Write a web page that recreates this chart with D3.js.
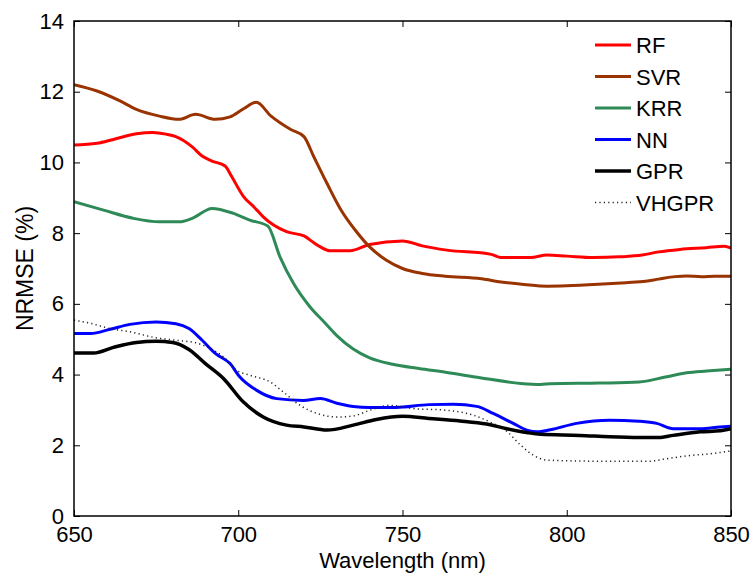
<!DOCTYPE html>
<html>
<head>
<meta charset="utf-8">
<script src="https://cdn.jsdelivr.net/npm/d3@7"></script>
<style>
  body { margin: 0; background: #fff; }
  text { font-family: "Liberation Sans", Arial, sans-serif; fill: #000; }
</style>
</head>
<body>
<div id="chart"></div>
<script>
// data
const xTicks = [650, 700, 750, 800, 850];
const yTicks = [0, 2, 4, 6, 8, 10, 12, 14];

const rfWl  = [650, 657, 662, 669, 674, 678, 681, 686, 689, 692, 696, 698, 701.5, 705, 707.6, 714.7, 720, 723, 725, 728, 734, 740, 750, 756, 763.5, 777, 780, 789, 794, 800, 808, 816, 823, 828, 834.5, 842.5, 848, 850];
const rfVal = [10.49, 10.54, 10.65, 10.81, 10.85, 10.8, 10.73, 10.44, 10.18, 10.04, 9.9, 9.6, 9.05, 8.72, 8.46, 8.04, 7.92, 7.73, 7.61, 7.5, 7.5, 7.68, 7.78, 7.64, 7.52, 7.4, 7.31, 7.31, 7.38, 7.35, 7.31, 7.33, 7.38, 7.47, 7.54, 7.59, 7.63, 7.58];

const svrWl  = [650, 657, 664, 669, 676, 682, 687, 693, 697.5, 701.5, 705.5, 710, 716, 720, 723, 727, 731, 736, 740, 745, 750, 756, 763, 774, 780, 787, 794, 800, 811, 818, 824, 828, 833, 836.5, 841, 845, 850];
const svrVal = [12.2, 12.02, 11.74, 11.5, 11.31, 11.22, 11.36, 11.22, 11.29, 11.51, 11.7, 11.31, 10.93, 10.73, 10.16, 9.41, 8.7, 8.04, 7.61, 7.24, 7.0, 6.86, 6.78, 6.71, 6.62, 6.55, 6.5, 6.51, 6.56, 6.6, 6.64, 6.7, 6.77, 6.79, 6.77, 6.78, 6.78];

const krrWl  = [650, 659, 668, 676, 682, 686, 692, 698.5, 703.5, 709, 712.7, 716.8, 721.8, 726, 730, 735, 740, 747, 755, 763.5, 773.6, 786, 792, 795, 810, 822, 830, 836.5, 842.6, 850];
const krrVal = [8.89, 8.65, 8.42, 8.32, 8.32, 8.42, 8.7, 8.56, 8.37, 8.2, 7.33, 6.58, 5.92, 5.5, 5.1, 4.72, 4.47, 4.29, 4.17, 4.06, 3.91, 3.75, 3.72, 3.74, 3.76, 3.79, 3.93, 4.05, 4.1, 4.15];

const nnWl  = [650, 655, 661, 667, 675, 681, 685, 689, 693, 697.5, 700.5, 705.5, 711.7, 719.8, 725, 730, 735, 740, 748, 758, 765.5, 772.6, 777.6, 783.7, 787.8, 791, 795, 803, 813, 822, 827.4, 832.4, 840.6, 846.7, 850];
const nnVal = [5.16, 5.16, 5.28, 5.42, 5.49, 5.44, 5.3, 4.97, 4.6, 4.31, 3.93, 3.56, 3.32, 3.27, 3.32, 3.19, 3.1, 3.07, 3.07, 3.15, 3.16, 3.1, 2.9, 2.62, 2.43, 2.38, 2.44, 2.62, 2.71, 2.68, 2.62, 2.47, 2.47, 2.52, 2.54];

const gprWl  = [650, 656, 662, 669, 675, 680, 685, 690, 695.5, 701.5, 707.6, 714.7, 720, 727, 735, 742, 750, 758, 767.5, 775.6, 781.7, 787.8, 792, 804, 813, 822, 828, 832.4, 840.6, 846.7, 850];
const gprVal = [4.61, 4.61, 4.77, 4.91, 4.94, 4.91, 4.71, 4.31, 3.89, 3.23, 2.8, 2.57, 2.52, 2.43, 2.57, 2.73, 2.82, 2.76, 2.69, 2.6, 2.47, 2.36, 2.31, 2.28, 2.24, 2.22, 2.22, 2.28, 2.38, 2.41, 2.47];

const vhWl  = [650, 655, 661, 667, 675, 681, 687, 691.4, 695.5, 699.5, 703.6, 709.7, 713.7, 718.8, 724, 730, 735, 740, 746, 753, 763.5, 771.6, 776.6, 781.7, 785.8, 789.8, 794, 810, 825, 830.4, 836.5, 844.6, 850];
const vhVal = [5.54, 5.45, 5.3, 5.21, 5.04, 4.97, 4.9, 4.74, 4.5, 4.12, 3.98, 3.79, 3.51, 3.13, 2.9, 2.8, 2.83, 2.99, 3.13, 3.04, 2.99, 2.85, 2.66, 2.4, 2.02, 1.72, 1.58, 1.55, 1.55, 1.62, 1.7, 1.77, 1.84];

const seriesNames = ["RF", "SVR", "KRR", "NN", "GPR", "VHGPR"];
const seriesColors = ["#ff0000", "#993300", "#2e8b57", "#0000ff", "#000000", "#222222"];

const series = [
  {wl: rfWl, val: rfVal},
  {wl: svrWl, val: svrVal},
  {wl: krrWl, val: krrVal},
  {wl: nnWl, val: nnVal},
  {wl: gprWl, val: gprVal},
  {wl: vhWl, val: vhVal}
].map((s, i) => ({
  name: seriesNames[i],
  color: seriesColors[i],
  points: s.wl.map((w, j) => ({w: w, v: s.val[j]}))
}));

const W = 753, H = 575;
const margin = {top: 21, right: 22, bottom: 59, left: 74},
  width = W - margin.left - margin.right,
  height = H - margin.top - margin.bottom;

const svg = d3.select("#chart")
  .append("svg")
  .attr("width", W)
  .attr("height", H);

const g = svg.append("g")
  .attr("transform", `translate(${margin.left}, ${margin.top})`);

const x = d3.scaleLinear().domain([650, 850]).range([0, width]);
const y = d3.scaleLinear().domain([0, 14]).range([height, 0]);

// clip so the lines stay in the box
g.append("clipPath").attr("id", "clip")
  .append("rect").attr("width", width).attr("height", height);

const line = d3.line()
  .x(d => x(d.w))
  .y(d => y(d.v))
  .curve(d3.curveMonotoneX);

function styleLine(sel, name) {
  if (name === "VHGPR") {
    sel.attr("stroke-width", 1.5).attr("stroke-dasharray", "1.2,3.2");
  } else {
    sel.attr("stroke-width", name === "GPR" ? 3.5 : 3)
      .attr("stroke-linejoin", "round");
  }
}

const plot = g.append("g").attr("clip-path", "url(#clip)");
series.forEach(s => {
  plot.append("path")
    .datum(s.points)
    .attr("fill", "none")
    .attr("stroke", s.color)
    .attr("d", line)
    .call(styleLine, s.name);
});

// axes, matlab style: ticks inward on all four sides
const tickLen = 6;
g.append("g")
  .attr("transform", `translate(0, ${height})`)
  .call(d3.axisBottom(x).tickValues(xTicks).tickSize(-tickLen).tickPadding(10).tickFormat(d3.format("d")))
  .call(a => a.select(".domain").remove())
  .call(a => a.selectAll("text").style("font-size", "22px"));
g.append("g")
  .call(d3.axisTop(x).tickValues(xTicks).tickSize(-tickLen).tickFormat(""))
  .call(a => a.select(".domain").remove());
g.append("g")
  .call(d3.axisLeft(y).tickValues(yTicks).tickSize(-tickLen).tickPadding(10))
  .call(a => a.select(".domain").remove())
  .call(a => a.selectAll("text").style("font-size", "22px"));
g.append("g")
  .attr("transform", `translate(${width}, 0)`)
  .call(d3.axisRight(y).tickValues(yTicks).tickSize(-tickLen).tickFormat(""))
  .call(a => a.select(".domain").remove());
g.selectAll(".tick line").attr("stroke", "#000").attr("stroke-width", 1);

g.append("rect")
  .attr("width", width).attr("height", height)
  .attr("fill", "none").attr("stroke", "#000").attr("stroke-width", 1.5);

// axis labels
svg.append("text")
  .attr("x", margin.left + width / 2)
  .attr("y", 568)
  .attr("text-anchor", "middle")
  .style("font-size", "22px")
  .text("Wavelength (nm)");
svg.append("text")
  .attr("transform", `translate(33, ${margin.top + height / 2}) rotate(-90)`)
  .attr("text-anchor", "middle")
  .style("font-size", "23px")
  .text("NRMSE (%)");

// legend
const legend = svg.append("g").attr("transform", "translate(595, 45)");
series.forEach((s, i) => {
  const row = legend.append("g").attr("transform", `translate(0, ${i * 31.5})`);
  row.append("line")
    .attr("x1", 0).attr("x2", 36)
    .attr("stroke", s.color)
    .call(styleLine, s.name);
  row.append("text")
    .attr("x", 41).attr("y", 8)
    .style("font-size", "22px")
    .text(s.name);
});
</script>
</body>
</html>
